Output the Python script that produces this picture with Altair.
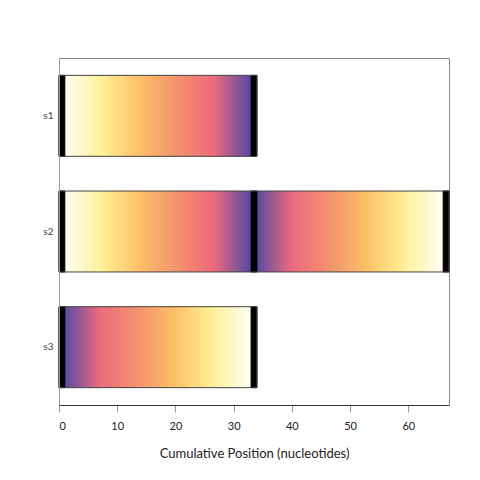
import altair as alt
import pandas as pd

# Sequences and their colored segments (start, end, direction of gradient)
seq_names = ["s1", "s2", "s2", "s3"]
seg_start = [1, 1, 34, 1]
seg_end = [33, 33, 66, 33]
seg_dir = ["up", "up", "down", "down"]   # up: light -> dark, down: dark -> light

# black junction caps
cap_seq = ["s1", "s1", "s2", "s2", "s2", "s3", "s3"]
cap_start = [0, 33, 0, 33, 66, 0, 33]

# outline extents
out_seq = ["s1", "s2", "s3"]
out_end = [34, 67, 34]

cell_w = 0.5
rows = []
for s, a, b, d in zip(seq_names, seg_start, seg_end, seg_dir):
    n = int(round((b - a) / cell_w))
    for i in range(n):
        f = (i + 0.5) / n
        x0 = a + i * cell_w
        if d == "down":
            f = 1 - f
        # slight overlap to avoid anti-aliasing seams
        rows.append({"seq": s, "x0": x0 - (0.3 if d == "down" else 0),
                     "x1": x0 + cell_w + (0.3 if d == "up" else 0), "frac": f})
cells = pd.DataFrame(rows)
caps = pd.DataFrame({"seq": cap_seq, "x0": cap_start, "x1": [c + 1 for c in cap_start]})
outl = pd.DataFrame({"seq": out_seq, "x0": [0] * 3, "x1": out_end})

yenc = alt.Y("seq:N", sort=["s1", "s2", "s3"], title=None,
             scale=alt.Scale(paddingInner=0.3, paddingOuter=0.15),
             axis=alt.Axis(ticks=False, domainColor="#999999", labelFontSize=10,
                           labelColor="#444444", labelPadding=6, labelFont="Lato"))
xscale = alt.Scale(domain=[0, 67], nice=False, zero=False)
xaxis = alt.Axis(values=[0, 10, 20, 30, 40, 50, 60], tickColor="#999999", tickSize=7,
                 domainColor="#333333", labelFontSize=11, labelColor="#222222",
                 labelFont="Lato", labelPadding=8, titleFont="Lato", titleFontSize=13,
                 titleFontWeight="normal", titleColor="#222222", titlePadding=16,
                 grid=False)

stops = [0, 0.19, 0.4, 0.62, 0.8, 1]
cols = ["#fffdf3", "#fff29a", "#fdc066", "#f28e6e", "#ee6b7d", "#5449a6"]

base_cells = alt.Chart(cells).mark_rect(strokeWidth=0).encode(
    x=alt.X("x0:Q", scale=xscale, axis=xaxis, title="Cumulative Position (nucleotides)"),
    x2="x1:Q",
    y=yenc,
    color=alt.Color("frac:Q", scale=alt.Scale(domain=stops, range=cols, interpolate="rgb"),
                    legend=None),
)
cap_layer = alt.Chart(caps).mark_rect(color="black", stroke="black", strokeWidth=1).encode(
    x=alt.X("x0:Q", scale=xscale), x2="x1:Q", y=yenc)
out_layer = alt.Chart(outl).mark_rect(fillOpacity=0, stroke="#444444", strokeWidth=1).encode(
    x=alt.X("x0:Q", scale=xscale), x2="x1:Q", y=yenc)

chart = alt.layer(base_cells, cap_layer, out_layer).properties(
    width=390, height=347,
    autosize=alt.AutoSizeParams(type="none"),
    padding={"left": 59, "top": 58, "right": 31, "bottom": 75},
    background="white",
).configure_view(stroke="#888888", strokeWidth=1)

chart.save("out.html", embed_options={"renderer": "svg", "actions": False})
